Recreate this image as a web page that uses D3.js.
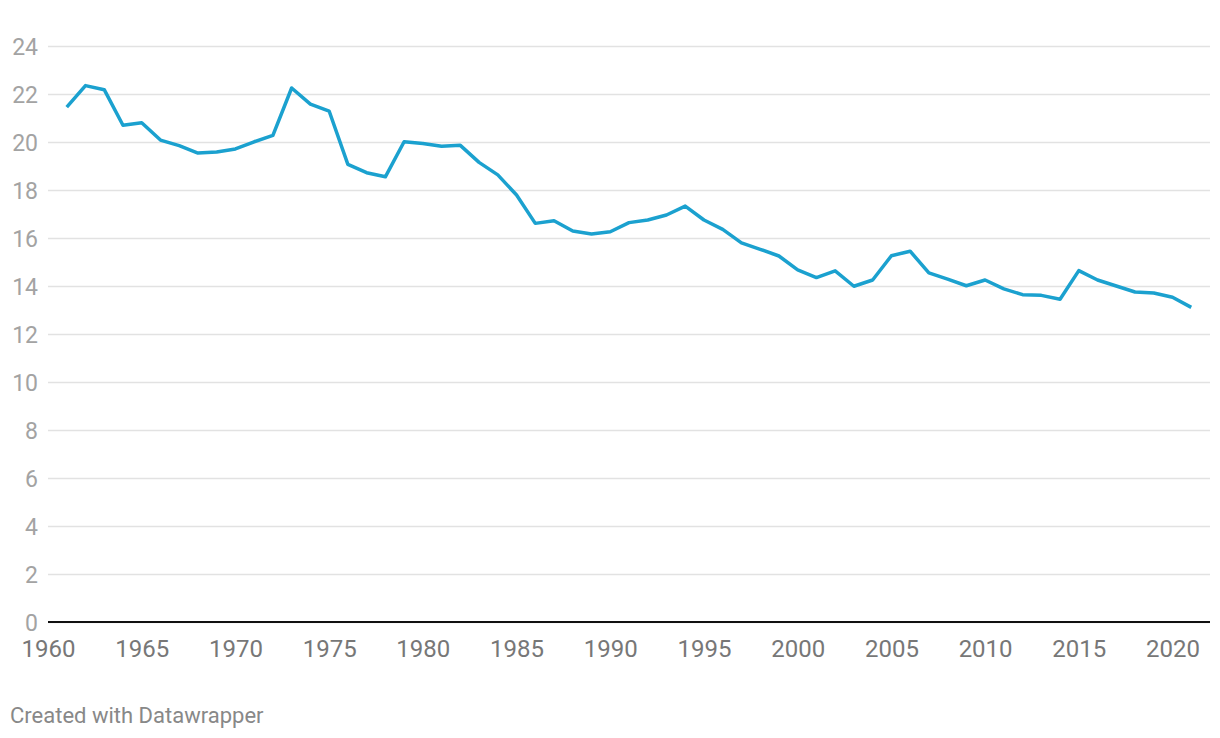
<!DOCTYPE html>
<html>
<head>
<meta charset="utf-8">
<script src="https://cdn.jsdelivr.net/npm/d3@7"></script>
<style>
  html, body { margin: 0; padding: 0; background: #fff; }
  svg { display: block; font-family: Roboto, "Noto Sans", sans-serif; }
</style>
</head>
<body>
<svg id="chart" width="1220" height="738"></svg>
<script>
const years = d3.range(1961, 2022);
const values = [
  21.45, 22.35, 22.18, 20.70, 20.80, 20.08, 19.85, 19.54, 19.58, 19.71,
  20.01, 20.28, 22.25, 21.58, 21.29, 19.07, 18.72, 18.55, 20.01, 19.94,
  19.82, 19.86, 19.15, 18.63, 17.79, 16.61, 16.72, 16.29, 16.17, 16.26,
  16.64, 16.75, 16.96, 17.33, 16.75, 16.36, 15.80, 15.53, 15.25, 14.67,
  14.35, 14.63, 13.99, 14.25, 15.26, 15.45, 14.55, 14.29, 14.01, 14.25,
  13.88, 13.64, 13.61, 13.45, 14.64, 14.25, 14.00, 13.75, 13.71, 13.53,
  13.11
];
const xTicks = [1960, 1965, 1970, 1975, 1980, 1985, 1990, 1995, 2000, 2005, 2010, 2015, 2020];
const yTicks = [0, 2, 4, 6, 8, 10, 12, 14, 16, 18, 20, 22, 24];
const credit = "Created with Datawrapper";

const svg = d3.select("#chart");
const mLeft = 48, mRight = 1210, mTop = 46, mBottom = 622;

const x = d3.scaleLinear().domain([1960, 2022]).range([mLeft, mRight]);
const y = d3.scaleLinear().domain([0, 24]).range([mBottom, mTop]);

// gridlines
const yAxis = d3.axisLeft(y).tickValues(yTicks).tickSize(-(mRight - mLeft)).tickFormat(d3.format("d")).tickPadding(0);
const gy = svg.append("g").attr("transform", `translate(${mLeft},0)`).call(yAxis);
gy.select(".domain").remove();
gy.selectAll(".tick line").attr("stroke", "#e2e2e2").attr("stroke-width", 1.6);
gy.selectAll(".tick text")
  .attr("x", 38 - mLeft)
  .attr("text-anchor", "end")
  .attr("dy", "0.36em")
  .attr("fill", "#a3a3a3")
  .style("font-size", "23px")
  .style("font-family", "Roboto");

// x axis
const xAxis = d3.axisBottom(x).tickValues(xTicks).tickSize(0).tickFormat(d3.format("d")).tickPadding(0);
const gx = svg.append("g").attr("transform", `translate(0,${mBottom})`).call(xAxis);
gx.select(".domain").remove();
gx.selectAll(".tick text")
  .attr("y", 34.5)
  .attr("dy", 0)
  .attr("fill", "#777")
  .style("font-size", "24px")
  .style("font-family", "Roboto");

// baseline
svg.append("line")
  .attr("x1", x(1960)).attr("x2", x(2022))
  .attr("y1", y(0)).attr("y2", y(0))
  .attr("stroke", "#111").attr("stroke-width", 2.2);

// line
const data = years.map((yr, i) => ({ yr, v: values[i] }));
const line = d3.line().x(d => x(d.yr)).y(d => y(d.v));
svg.append("path")
  .datum(data)
  .attr("d", line)
  .attr("fill", "none")
  .attr("stroke", "#1ba1cf")
  .attr("stroke-width", 3.5)
  .attr("stroke-linejoin", "round")
  .attr("stroke-linecap", "butt");

// credit
svg.append("text")
  .attr("x", 10).attr("y", 723)
  .attr("fill", "#888")
  .style("font-size", "22px")
  .style("font-family", "Roboto")
  .text(credit);
</script>
</body>
</html>
